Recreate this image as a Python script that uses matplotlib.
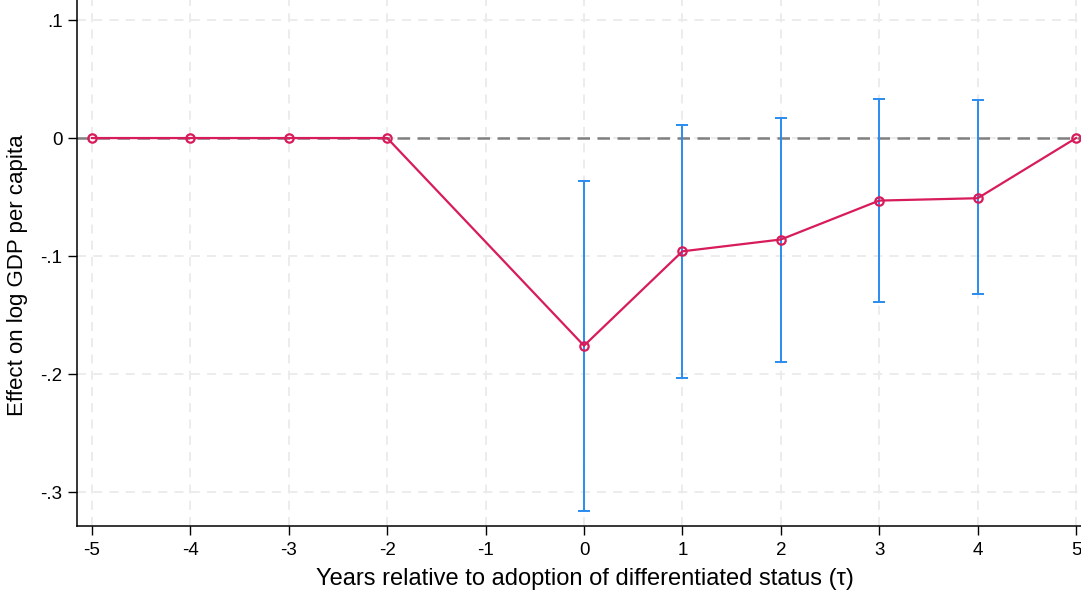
import numpy as np
import matplotlib
matplotlib.use("Agg")
import matplotlib.pyplot as plt

plt.rcParams['font.family'] = ['Liberation Sans', 'DejaVu Sans']

# event-study estimates (tau = -1 is the omitted reference year)
tau = [-5, -4, -3, -2, 0, 1, 2, 3, 4, 5]
coef = [0, 0, 0, 0, -0.176, -0.096, -0.086, -0.053, -0.051, 0]
ci_low = [np.nan, np.nan, np.nan, np.nan, -0.316, -0.203, -0.190, -0.139, -0.132, np.nan]
ci_high = [np.nan, np.nan, np.nan, np.nan, -0.036, 0.011, 0.017, 0.033, 0.032, np.nan]

x_ticks = [-5, -4, -3, -2, -1, 0, 1, 2, 3, 4, 5]
y_ticks = [0.1, 0, -0.1, -0.2, -0.3]
y_ticklabels = [".1", "0", "-.1", "-.2", "-.3"]

fig = plt.figure(figsize=(10.81, 5.92), dpi=100)
ax = fig.add_axes([0.0712, 0.1115, 0.9288, 0.8885])

ax.set_xlim(-5.152, 5.05)
ax.set_ylim(-0.3288, 0.117)

# grid
for xv in x_ticks:
    ax.axvline(xv, color='#ebebeb', lw=1.3, ls=(0, (5, 4)), zorder=0)
for yv in y_ticks:
    ax.axhline(yv, color='#ebebeb', lw=1.3, ls=(0, (5, 4)), zorder=0)

ax.axhline(0, color='#808080', lw=1.8, ls=(0, (5, 3)), zorder=1)

coef_a = np.array(coef)
lo = np.array(ci_low)
hi = np.array(ci_high)
mask = ~np.isnan(lo)
t_arr = np.array(tau)
ax.errorbar(t_arr[mask], coef_a[mask],
            yerr=[coef_a[mask] - lo[mask], hi[mask] - coef_a[mask]],
            fmt='none', ecolor='#2a8cf0', elinewidth=1.4, capsize=4,
            capthick=1.4, zorder=2)

ax.plot(tau, coef, color='#d81b5a', lw=1.6, marker='o', ms=6,
        mfc='none', mec='#d81b5a', mew=1.6, zorder=3)

ax.set_xticks(x_ticks)
ax.set_xticklabels([str(v) for v in x_ticks])
ax.set_yticks(y_ticks)
ax.set_yticklabels(y_ticklabels)
ax.tick_params(axis='both', direction='out', length=6.5, width=1,
               labelsize=13.5, colors='black', pad=4)
ax.tick_params(axis='x', pad=5)

for s in ['top', 'right']:
    ax.spines[s].set_visible(False)
for s in ['left', 'bottom']:
    ax.spines[s].set_linewidth(1.1)

ax.set_xlabel("Years relative to adoption of differentiated status (τ)",
              fontsize=17)
ax.set_ylabel("Effect on log GDP per capita", fontsize=16)
ax.xaxis.set_label_coords(0.506, -0.08)
ax.yaxis.set_label_coords(-0.049, 0.477)

fig.savefig("out.png", dpi=100)
